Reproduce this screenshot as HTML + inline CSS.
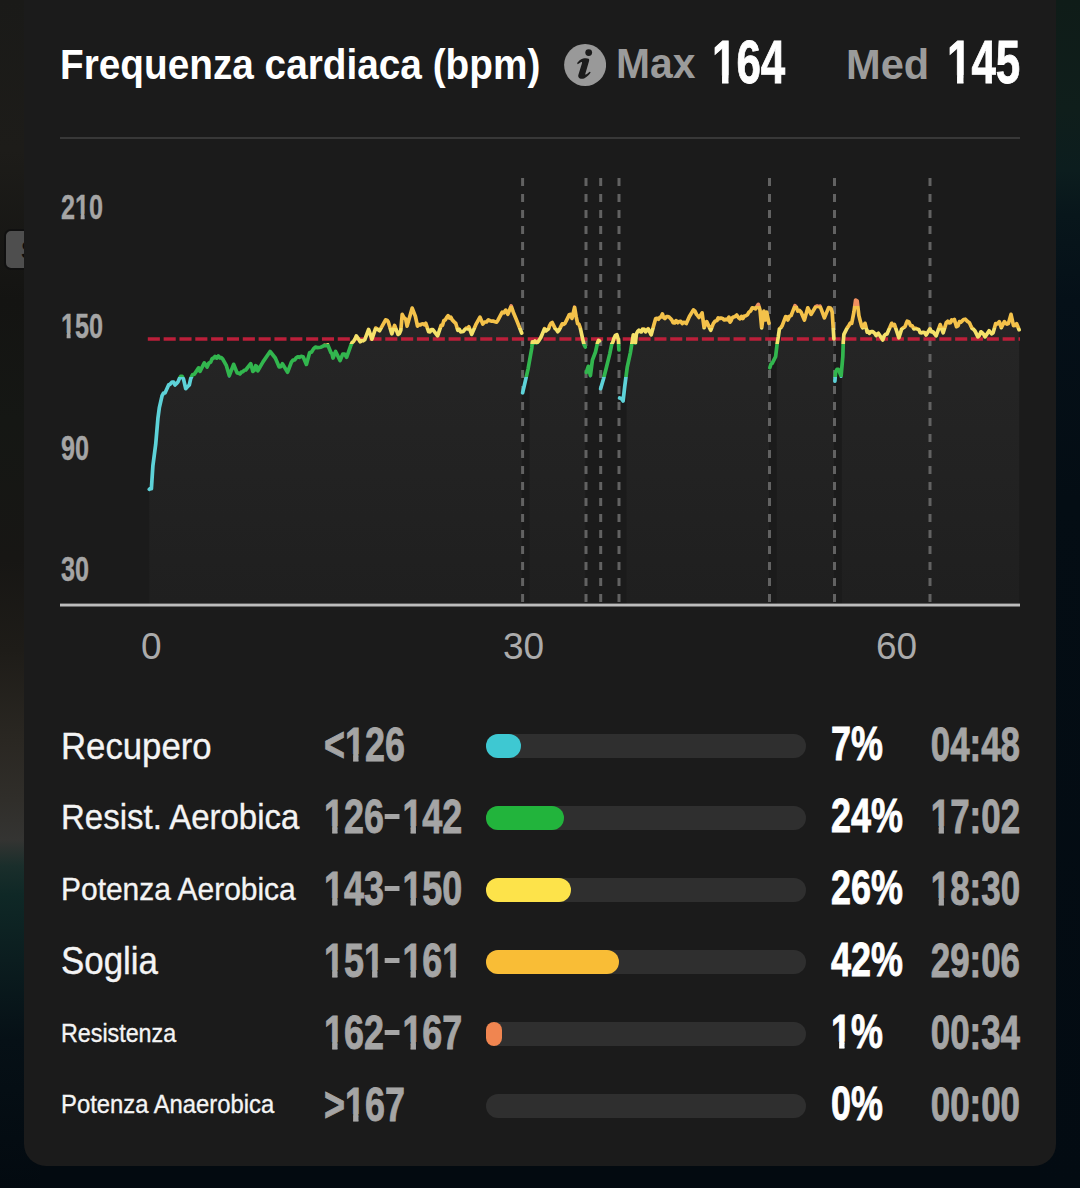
<!DOCTYPE html>
<html><head><meta charset="utf-8">
<style>
*{margin:0;padding:0;box-sizing:border-box}
html,body{width:1080px;height:1188px;overflow:hidden;background:#030a10}
body{position:relative;font-family:"Liberation Sans",sans-serif}
#bgl{position:absolute;left:0;top:0;width:40px;height:1188px;
 background:linear-gradient(180deg,#1a1a18 0px,#1d1c19 150px,#141412 300px,#151714 420px,#171614 560px,#1e1c18 650px,#2a2722 740px,#302e2a 800px,#343432 840px,#1a2e2b 866px,#0f2826 895px,#0b1d1f 960px,#061016 1040px,#030a10 1188px)}
#bgr{position:absolute;right:0;top:0;width:40px;height:1188px;
 background:linear-gradient(180deg,#0f1c18 0px,#0f1e1b 110px,#0c1d1e 170px,#08161b 215px,#051018 300px,#040d14 500px,#030b12 1188px)}
#chip{position:absolute;left:4px;top:229px;width:40px;height:41px;border-radius:7px;background:#4e4e4e;border:2px solid #101010;overflow:hidden}
#chip b{position:absolute;left:15px;top:6px;font:bold 26px "Liberation Sans",sans-serif;color:#0c0c0c;line-height:1}
#card{position:absolute;left:24px;top:-30px;width:1032px;height:1196px;background:#1b1b1b;border-radius:22px}
.t{position:absolute;white-space:nowrap;line-height:1;transform-origin:0 0}
.b{font-weight:bold}
.c{font-weight:bold;color:#a5a5a5;-webkit-text-stroke:0.9px #a5a5a5}
.cw{-webkit-text-stroke:0.9px #fff}
.w{color:#fff}
#sep{position:absolute;left:60px;top:137px;width:960px;height:2px;background:#383838}
.one{display:inline-block;clip-path:polygon(-5% -5%,105% -5%,105% 71%,calc(66.64% + 0.3px) 71%,calc(66.64% + 0.3px) 105%,calc(41.97% - 0.3px) 105%,calc(41.97% - 0.3px) 71%,-5% 71%)}
.track{position:absolute;left:486px;width:320px;height:24px;border-radius:12px;background:#2f2f2f}
.dash{display:inline-block;width:20.5px;height:5px;background:#a5a5a5;vertical-align:0.285em;margin:0 3.5px 0 1px}
.fill{position:absolute;left:0;top:0;height:24px;border-radius:12px}
</style></head>
<body>
<div id="bgl"></div><div id="bgr"></div>
<div id="chip"><b>S</b></div>
<div id="card"></div>

<!-- header -->
<div class="t b w" id="title" style="left:59.5px;top:43.3px;font-size:43px;transform:scaleX(0.9014)">Frequenza cardiaca (bpm)</div>
<svg style="position:absolute;left:564px;top:44px" width="42" height="42" viewBox="0 0 42 42">
 <circle cx="21.1" cy="21" r="21" fill="#999999"/>
 <circle cx="24.7" cy="8.6" r="3.4" fill="#1b1b1b"/>
 <path d="M13.1,18.9 C14.5,17.5 16.5,15 19.1,14.5 C21,14 23.5,14 24.6,14.7 C25.4,15.4 25.3,16.2 25,17.2 L21.2,30.3 C21.6,31 22.5,30.3 24.7,28.4 C25.6,27.7 26.3,27.6 26.6,28.6 C25.5,30.5 23.5,32.6 20.1,34.4 C18.3,35 15.8,35.2 14.6,33.3 C14.1,32.4 14.2,31.6 14.4,30.8 L17.9,19.5 C18.3,18.1 17.7,17.8 16.8,18.3 C15.8,19 14.8,19.7 13.7,20.2 Z" fill="#1b1b1b"/>
</svg>
<div class="t b" style="left:615.5px;top:43px;font-size:42px;color:#9b9b9b;transform:scaleX(0.972)">Max</div>
<div class="t b w cw" style="left:711.8px;top:32.3px;font-size:61px;transform:scaleX(0.72)"><span class="one">1</span>64</div>
<div class="t b" style="left:845.9px;top:44px;font-size:42px;color:#9b9b9b;transform:scaleX(0.99)">Med</div>
<div class="t b w cw" style="left:946.6px;top:32px;font-size:61px;transform:scaleX(0.72)"><span class="one">1</span>45</div>
<div id="sep"></div>

<!-- y labels -->
<div class="t c" style="-webkit-text-stroke-width:0.4px;left:61px;top:189px;font-size:35px;transform:scaleX(0.72)">2<span class="one">1</span>0</div>
<div class="t c" style="-webkit-text-stroke-width:0.4px;left:61px;top:308px;font-size:35px;transform:scaleX(0.72)"><span class="one">1</span>50</div>
<div class="t c" style="-webkit-text-stroke-width:0.4px;left:61px;top:429.5px;font-size:35px;transform:scaleX(0.72)">90</div>
<div class="t c" style="-webkit-text-stroke-width:0.4px;left:61px;top:550.5px;font-size:35px;transform:scaleX(0.72)">30</div>

<!-- chart -->
<svg style="position:absolute;left:0;top:0" width="1080" height="700" viewBox="0 0 1080 700">
<defs><linearGradient id="fg" x1="0" y1="300" x2="0" y2="604" gradientUnits="userSpaceOnUse"><stop offset="0" stop-color="#262626"/><stop offset="1" stop-color="#1f1f1f"/></linearGradient><linearGradient id="zg" x1="0" y1="290" x2="0" y2="410" gradientUnits="userSpaceOnUse"><stop offset="0.0000" stop-color="#f09060"/><stop offset="0.1367" stop-color="#f09060"/><stop offset="0.1367" stop-color="#f4c24a"/><stop offset="0.3200" stop-color="#f4c24a"/><stop offset="0.3200" stop-color="#f5e16a"/><stop offset="0.4533" stop-color="#f5e16a"/><stop offset="0.4533" stop-color="#32b64e"/><stop offset="0.7283" stop-color="#32b64e"/><stop offset="0.7283" stop-color="#5dd2d8"/><stop offset="1.0000" stop-color="#5dd2d8"/></linearGradient></defs>
<path d="M149.3,604.5 L149.3,489.3 L149.3,489.3 L151.4,488.6 L152.9,465.7 L155.7,444.3 L157.9,418.6 L159.3,407.9 L162.1,395.7 L165,392.9 L168.6,385 L172.1,382.1 L175,385 L177.9,382.1 L180.7,376.4 L183.6,379.3 L185.7,388.6 L189.3,385 L190.7,378.6 L194.3,374.3 L198.6,367.9 L200,371.4 L204.3,362.9 L207.1,367.1 L210.7,362.1 L215,356.4 L220,357.9 L222.9,359.3 L226.4,365.7 L229.3,375.7 L233.6,364.3 L237.1,372.9 L241.4,372.1 L245.7,370 L250.7,363.6 L252.9,371.4 L255.7,365.7 L257.8,370.9 L263,361.9 L270.1,351.5 L275.3,358 L279.2,367 L282.4,363.8 L287.6,372.2 L291.5,361.9 L294.7,359.9 L299.3,357.3 L303.1,356.7 L306.4,364.4 L309.6,352.8 L313.5,348.9 L317.4,347.6 L322.6,346.3 L327.8,345 L331,352.8 L333,358 L335.6,351.5 L340.1,360.6 L342.7,354.1 L346.6,357.3 L350.5,346.3 L353.7,341.1 L356.3,335.9 L360.2,341.8 L364.7,339.8 L368.6,329.4 L371.9,339.2 L375.7,328.1 L379.6,330.7 L385.6,319.9 L388.3,321.9 L391.8,333.8 L394.6,325.4 L398,334.4 L400.8,330.3 L402.2,314.3 L405.7,319.2 L407.1,326.1 L412.2,308.1 L415.4,316.4 L417.5,326.1 L421.7,324 L425.8,323.3 L428.6,331.7 L432.8,329.6 L437.6,335.8 L441.1,325.4 L445.3,319.9 L448.1,315.7 L452.2,319.9 L455.7,323.3 L457.8,330.3 L461.9,331.7 L466.1,328.2 L468.9,326.8 L471.7,334.4 L475.8,324.7 L480,317.1 L482.8,324 L488.3,319.9 L495.3,321.9 L498.1,319.9 L502.2,312.2 L505.7,310.1 L507.8,314.3 L511.2,306 L513.3,312.2 L516.8,320.6 L521.7,333 L521.7,604.5 Z" fill="url(#fg)"/>
<path d="M529.6,604.5 L529.6,360.4 L531.8,348 L532.3,341.9 L536.4,342.9 L539.4,339.8 L542,334.7 L544.5,328.6 L547.6,329.6 L549.6,325.6 L552.2,322.5 L555.2,328.6 L557.8,331.7 L560.8,326.6 L564.9,323.5 L568,317.4 L570.5,314.4 L572,318.4 L574.6,307.2 L576.1,316.4 L577.6,323.5 L580.2,327.6 L582.2,336.8 L583.8,343.9 L585.3,347 L585.3,604.5 Z" fill="url(#fg)"/>
<path d="M626.6,604.5 L626.6,372.1 L627.2,367.4 L630.3,353.1 L631.8,344 L633.3,334.8 L635.4,343 L636.4,333.8 L638.9,330.2 L640.5,331.8 L642.5,329.2 L645.6,331.8 L648.1,328.7 L651.2,334.8 L653.7,325.6 L655.7,318.5 L659.8,317.5 L662.4,313.9 L664.9,318.5 L668,316.5 L670.5,318.5 L673.1,322.6 L676.1,320.6 L679.2,321.6 L682.2,323.6 L686.3,323.6 L689.4,316.5 L693.4,309.9 L696.5,314.4 L699,317.5 L702.1,312.9 L704.1,327.7 L706.7,321.6 L710.7,330.2 L713.3,323.6 L716.9,320.6 L720.9,318 L724.4,320 L728.9,317.2 L730,322.2 L732.2,317.8 L736.7,315 L740,318.9 L744.4,316.1 L748.9,312.2 L752.2,307.8 L755.6,308.9 L758.3,304.4 L760,310 L761.7,327.8 L763.9,311.1 L765.6,320 L766.7,312.2 L769,323.3 L769,604.5 Z" fill="url(#fg)"/>
<path d="M776.8,604.5 L776.8,346.7 L777.2,343.3 L778.3,336.7 L779.4,328.9 L782.2,325.6 L785.6,316.7 L787.8,320 L791.1,315.6 L795,305.6 L797.8,311.1 L801.1,312.2 L804.4,320 L807.8,307.8 L811.1,314.4 L815.6,306.7 L818.9,306.7 L821.1,308.9 L824.4,317.8 L827.2,311.1 L830,307.8 L832.2,312.2 L833.9,338.9 L833.9,604.5 Z" fill="url(#fg)"/>
<path d="M841.9,604.5 L841.9,366.9 L842.8,356.7 L843.3,341.1 L843.9,334.4 L847.2,327.8 L851.7,323.3 L853.9,312.2 L855.6,300 L857.2,301.1 L858.9,315.6 L860.6,322.2 L862.8,327.8 L865,323.3 L867.2,332.2 L869.4,333.3 L872.8,331.7 L876.1,335.6 L878.3,333.3 L882.8,340 L885.6,334.4 L888.3,331.1 L891.7,323.3 L894.4,324.4 L896.7,331.1 L898.9,337.8 L901.7,328.9 L905,326.7 L907.2,321.1 L910.6,325.6 L913.9,328.9 L917.2,328.9 L921.7,332.8 L926.1,335 L930,328.7 L933.1,331.8 L936.1,335.8 L940.2,324.6 L943.2,332.8 L946.3,322.6 L950.4,322.6 L954.4,319.5 L956.5,326.7 L959.5,321.6 L963.6,319.5 L966.7,320.6 L970.7,325.6 L974.8,330.7 L977.9,336.9 L980.9,331.8 L985,336.9 L989.1,330.7 L993.1,332.8 L995.7,323.6 L999.3,321.6 L1001.3,327.7 L1004.4,321.6 L1008.4,323.6 L1011,314.4 L1013.5,325.6 L1016.6,323.6 L1019.1,329.7 L1019.1,604.5 Z" fill="url(#fg)"/>
<line x1="522.6" y1="178" x2="522.6" y2="604" stroke="#626262" stroke-width="3" stroke-dasharray="8 8"/>
<line x1="586" y1="178" x2="586" y2="604" stroke="#626262" stroke-width="3" stroke-dasharray="8 8"/>
<line x1="600.7" y1="178" x2="600.7" y2="604" stroke="#626262" stroke-width="3" stroke-dasharray="8 8"/>
<line x1="619" y1="178" x2="619" y2="604" stroke="#626262" stroke-width="3" stroke-dasharray="8 8"/>
<line x1="769.5" y1="178" x2="769.5" y2="604" stroke="#626262" stroke-width="3" stroke-dasharray="8 8"/>
<line x1="834.5" y1="178" x2="834.5" y2="604" stroke="#626262" stroke-width="3" stroke-dasharray="8 8"/>
<line x1="930" y1="178" x2="930" y2="604" stroke="#626262" stroke-width="3" stroke-dasharray="8 8"/>
<line x1="147.8" y1="339" x2="1020" y2="339" stroke="#bb1f3a" stroke-width="3.6" stroke-dasharray="12.1 3.73"/>
<path d="M149.3,489.3 L150.4,488.3 L151.4,488.6 L152.9,465.7 L155.7,444.3 L157.9,418.6 L159.3,407.9 L162.1,395.7 L163.6,393 L165,392.9 L168.6,385 L170.3,384.1 L172.1,382.1 L173.6,382 L175,385 L176.4,383.7 L177.9,382.1 L179.3,378.8 L180.7,376.4 L182.1,376.3 L183.6,379.3 L185.7,388.6 L187.5,386.8 L189.3,385 L190.7,378.6 L192.5,374.8 L194.3,374.3 L198.6,367.9 L200,371.4 L204.3,362.9 L205.7,364.8 L207.1,367.1 L208.9,363.1 L210.7,362.1 L212.1,358.7 L213.6,358 L215,356.4 L216.7,358.1 L218.3,356 L220,357.9 L221.4,357.6 L222.9,359.3 L226.4,365.7 L229.3,375.7 L233.6,364.3 L237.1,372.9 L238.5,373.1 L240,374 L241.4,372.1 L242.8,371.7 L244.3,370.3 L245.7,370 L250.7,363.6 L252.9,371.4 L254.3,370.3 L255.7,365.7 L256.8,366.7 L257.8,370.9 L263,361.9 L270.1,351.5 L275.3,358 L279.2,367 L280.8,366.7 L282.4,363.8 L287.6,372.2 L291.5,361.9 L293.1,360.1 L294.7,359.9 L296.2,357.8 L297.8,356.8 L299.3,357.3 L301.2,356.3 L303.1,356.7 L306.4,364.4 L309.6,352.8 L311.6,352 L313.5,348.9 L315.4,347.1 L317.4,347.6 L319.1,347.5 L320.9,347.2 L322.6,346.3 L324.3,345.4 L326.1,345.6 L327.8,345 L331,352.8 L332,353.8 L333,358 L335.6,351.5 L340.1,360.6 L342.7,354.1 L344.6,354.1 L346.6,357.3 L350.5,346.3 L352.1,342.6 L353.7,341.1 L355,339.1 L356.3,335.9 L358.2,338.6 L360.2,341.8 L361.7,340.5 L363.2,340.8 L364.7,339.8 L368.6,329.4 L371.9,339.2 L375.7,328.1 L377.6,329.2 L379.6,330.7 L385.6,319.9 L387,320.2 L388.3,321.9 L391.8,333.8 L394.6,325.4 L398,334.4 L399.4,333.4 L400.8,330.3 L402.2,314.3 L403.9,317.5 L405.7,319.2 L407.1,326.1 L412.2,308.1 L415.4,316.4 L417.5,326.1 L418.9,324.5 L420.3,325 L421.7,324 L423.1,323.9 L424.4,324.9 L425.8,323.3 L428.6,331.7 L430,331.8 L431.4,329.5 L432.8,329.6 L437.6,335.8 L441.1,325.4 L442.5,325.3 L443.9,320.4 L445.3,319.9 L446.7,317.5 L448.1,315.7 L449.5,318 L450.8,317.2 L452.2,319.9 L453.9,321.6 L455.7,323.3 L457.8,330.3 L459.2,329.1 L460.5,331.8 L461.9,331.7 L463.3,331.5 L464.7,329.6 L466.1,328.2 L467.5,328.9 L468.9,326.8 L471.7,334.4 L475.8,324.7 L480,317.1 L482.8,324 L484.6,322 L486.5,322 L488.3,319.9 L490.1,320.7 L491.8,321.2 L493.6,321.2 L495.3,321.9 L496.7,322.1 L498.1,319.9 L502.2,312.2 L503.9,312.8 L505.7,310.1 L506.8,312.1 L507.8,314.3 L511.2,306 L513.3,312.2 L516.8,320.6 L521.7,333" fill="none" stroke="url(#zg)" stroke-width="3.7" stroke-linejoin="round" stroke-linecap="round"/>
<path d="M522.6,392.8 L525.2,381.6 L528.2,368.3 L531.8,348 L532.3,341.9 L533.7,342.8 L535,341 L536.4,342.9 L537.9,342.1 L539.4,339.8 L540.7,337.8 L542,334.7 L544.5,328.6 L546,330.9 L547.6,329.6 L548.6,328.8 L549.6,325.6 L550.9,323.3 L552.2,322.5 L555.2,328.6 L556.5,329.7 L557.8,331.7 L559.3,329.8 L560.8,326.6 L562.2,323.8 L563.5,324.4 L564.9,323.5 L568,317.4 L569.2,314.7 L570.5,314.4 L572,318.4 L574.6,307.2 L576.1,316.4 L577.6,323.5 L578.9,324.2 L580.2,327.6 L582.2,336.8 L583.8,343.9 L585.3,347" fill="none" stroke="url(#zg)" stroke-width="3.7" stroke-linejoin="round" stroke-linecap="round"/>
<path d="M586.3,372.4 L588.3,366.3 L590.4,375.5 L592.4,360.2 L595.5,352 L597.5,342.9 L598.5,340.3 L599.5,340.8" fill="none" stroke="url(#zg)" stroke-width="3.7" stroke-linejoin="round" stroke-linecap="round"/>
<path d="M600.6,388.7 L603.6,378.5 L606.7,366.3 L609.7,354.1 L611.8,343.9 L612.8,342.3 L613.8,338.8 L615.3,335.4 L616.9,334.7 L618.4,339.8 L618.9,350" fill="none" stroke="url(#zg)" stroke-width="3.7" stroke-linejoin="round" stroke-linecap="round"/>
<path d="M619.6,398 L621.4,398.6 L623.1,401 L624.7,386.8 L627.2,367.4 L630.3,353.1 L631.8,344 L633.3,334.8 L635.4,343 L636.4,333.8 L637.6,331.6 L638.9,330.2 L640.5,331.8 L641.5,331.8 L642.5,329.2 L644,329 L645.6,331.8 L646.9,330.1 L648.1,328.7 L651.2,334.8 L653.7,325.6 L655.7,318.5 L657.1,318.3 L658.4,319.2 L659.8,317.5 L661.1,316.8 L662.4,313.9 L663.6,317.5 L664.9,318.5 L666.5,316.7 L668,316.5 L669.2,317.2 L670.5,318.5 L671.8,320 L673.1,322.6 L674.6,323 L676.1,320.6 L677.7,322.7 L679.2,321.6 L680.7,321.3 L682.2,323.6 L683.6,322.4 L684.9,322.6 L686.3,323.6 L689.4,316.5 L693.4,309.9 L695,311.2 L696.5,314.4 L697.8,315.9 L699,317.5 L700.5,315.5 L702.1,312.9 L704.1,327.7 L706.7,321.6 L710.7,330.2 L713.3,323.6 L715.1,321.2 L716.9,320.6 L718.2,317.9 L719.6,318.6 L720.9,318 L722.6,318.5 L724.4,320 L725.9,319.3 L727.4,319.8 L728.9,317.2 L730,322.2 L731.1,320.7 L732.2,317.8 L733.7,316.9 L735.2,316.4 L736.7,315 L738.4,317.6 L740,318.9 L741.5,316.4 L742.9,318.5 L744.4,316.1 L745.9,315.8 L747.4,314.8 L748.9,312.2 L750.5,311.1 L752.2,307.8 L753.9,308 L755.6,308.9 L757,306.3 L758.3,304.4 L760,310 L761.7,327.8 L763.9,311.1 L765.6,320 L766.7,312.2 L769,323.3" fill="none" stroke="url(#zg)" stroke-width="3.7" stroke-linejoin="round" stroke-linecap="round"/>
<path d="M769.8,367.8 L771,364.1 L772.2,363.3 L775.6,356.7 L777.2,343.3 L778.3,336.7 L779.4,328.9 L780.8,327.7 L782.2,325.6 L785.6,316.7 L786.7,316.8 L787.8,320 L789.5,316.2 L791.1,315.6 L795,305.6 L796.4,307.3 L797.8,311.1 L799.5,310.4 L801.1,312.2 L804.4,320 L807.8,307.8 L811.1,314.4 L815.6,306.7 L817.2,306.1 L818.9,306.7 L820,306.2 L821.1,308.9 L824.4,317.8 L827.2,311.1 L828.6,307.7 L830,307.8 L831.1,308.7 L832.2,312.2 L833.9,338.9" fill="none" stroke="url(#zg)" stroke-width="3.7" stroke-linejoin="round" stroke-linecap="round"/>
<path d="M834.9,381.1 L835.6,372.2 L837,369.4 L838.3,369.4 L841.1,376 L842.8,356.7 L843.3,341.1 L843.9,334.4 L847.2,327.8 L848.7,325.8 L850.2,323.1 L851.7,323.3 L853.9,312.2 L855.6,300 L857.2,301.1 L858.9,315.6 L860.6,322.2 L861.7,326.3 L862.8,327.8 L863.9,326 L865,323.3 L867.2,332.2 L868.3,331.5 L869.4,333.3 L871.1,331.6 L872.8,331.7 L874.5,333.1 L876.1,335.6 L877.2,334 L878.3,333.3 L882.8,340 L884.2,335.8 L885.6,334.4 L887,334 L888.3,331.1 L891.7,323.3 L893,325.6 L894.4,324.4 L896.7,331.1 L898.9,337.8 L901.7,328.9 L903.4,327.7 L905,326.7 L906.1,323.8 L907.2,321.1 L908.9,321.9 L910.6,325.6 L912.2,325.8 L913.9,328.9 L915.5,328.3 L917.2,328.9 L918.7,329.4 L920.2,332.7 L921.7,332.8 L923.2,332.3 L924.6,332.5 L926.1,335 L930,328.7 L931.5,331.9 L933.1,331.8 L934.6,333.9 L936.1,335.8 L940.2,324.6 L943.2,332.8 L946.3,322.6 L947.7,321.3 L949,322.8 L950.4,322.6 L951.7,319.9 L953.1,320.6 L954.4,319.5 L956.5,326.7 L958,325.9 L959.5,321.6 L960.9,322.2 L962.2,320.9 L963.6,319.5 L965.2,319.2 L966.7,320.6 L968,321.8 L969.4,322.7 L970.7,325.6 L972.1,328.3 L973.4,329.1 L974.8,330.7 L977.9,336.9 L979.4,335.4 L980.9,331.8 L982.3,332.9 L983.6,334.2 L985,336.9 L989.1,330.7 L990.4,332.5 L991.8,333.8 L993.1,332.8 L995.7,323.6 L997.5,323.9 L999.3,321.6 L1001.3,327.7 L1004.4,321.6 L1005.7,323.4 L1007.1,324.1 L1008.4,323.6 L1011,314.4 L1013.5,325.6 L1015,325.5 L1016.6,323.6 L1019.1,329.7" fill="none" stroke="url(#zg)" stroke-width="3.7" stroke-linejoin="round" stroke-linecap="round"/>
<rect x="60" y="603.6" width="960" height="2.9" fill="#bdbdbd"/>
</svg>

<!-- x labels -->
<div class="t" style="left:141px;top:627.5px;font-size:37px;color:#ababab">0</div>
<div class="t" style="left:503px;top:627.5px;font-size:37px;color:#ababab">30</div>
<div class="t" style="left:876px;top:627.5px;font-size:37px;color:#ababab">60</div>

<!-- zones -->
<div class="t" style="left:60.5px;top:727.54px;font-size:37.75px;color:#f4f4f4;-webkit-text-stroke:0.35px #f4f4f4;transform:scaleX(0.92)">Recupero</div>
<div class="t c" style="left:323.5px;top:719.6px;font-size:48.5px;transform:scaleX(0.74)">&lt;<span class="one">1</span>26</div>
<div class="track" style="top:734px"><div class="fill" style="width:35px;background:#3ec8d2"></div></div>
<div class="t b w cw" style="left:831px;top:719.1px;font-size:48.5px;transform:scaleX(0.74)">7%</div>
<div class="t c" style="right:60px;top:719.6px;font-size:48.5px;transform:scaleX(0.72);transform-origin:100% 0">04:48</div>
<div class="t" style="left:60.5px;top:799.84px;font-size:35.86px;color:#f4f4f4;-webkit-text-stroke:0.35px #f4f4f4;transform:scaleX(0.92)">Resist. Aerobica</div>
<div class="t c" style="left:323.5px;top:791.6px;font-size:48.5px;transform:scaleX(0.74)"><span class="one">1</span>26<span class="dash"></span><span class="one">1</span>42</div>
<div class="track" style="top:806px"><div class="fill" style="width:78px;background:#22b43c"></div></div>
<div class="t b w cw" style="left:831px;top:791.1px;font-size:48.5px;transform:scaleX(0.74)">24%</div>
<div class="t c" style="right:60px;top:791.6px;font-size:48.5px;transform:scaleX(0.72);transform-origin:100% 0"><span class="one">1</span>7:02</div>
<div class="t" style="left:60.5px;top:874.12px;font-size:31.40px;color:#f4f4f4;-webkit-text-stroke:0.35px #f4f4f4;transform:scaleX(0.954)">Potenza Aerobica</div>
<div class="t c" style="left:323.5px;top:863.6px;font-size:48.5px;transform:scaleX(0.74)"><span class="one">1</span>43<span class="dash"></span><span class="one">1</span>50</div>
<div class="track" style="top:878px"><div class="fill" style="width:85px;background:#fde34a"></div></div>
<div class="t b w cw" style="left:831px;top:863.1px;font-size:48.5px;transform:scaleX(0.74)">26%</div>
<div class="t c" style="right:60px;top:863.6px;font-size:48.5px;transform:scaleX(0.72);transform-origin:100% 0"><span class="one">1</span>8:30</div>
<div class="t" style="left:60.5px;top:942.63px;font-size:37.95px;color:#f4f4f4;-webkit-text-stroke:0.35px #f4f4f4;transform:scaleX(0.92)">Soglia</div>
<div class="t c" style="left:323.5px;top:935.6px;font-size:48.5px;transform:scaleX(0.74)"><span class="one">1</span>5<span class="one">1</span><span class="dash"></span><span class="one">1</span>6<span class="one">1</span></div>
<div class="track" style="top:950px"><div class="fill" style="width:133px;background:#f9bd36"></div></div>
<div class="t b w cw" style="left:831px;top:935.1px;font-size:48.5px;transform:scaleX(0.74)">42%</div>
<div class="t c" style="right:60px;top:935.6px;font-size:48.5px;transform:scaleX(0.72);transform-origin:100% 0">29:06</div>
<div class="t" style="left:60.5px;top:1020.88px;font-size:25.30px;color:#f4f4f4;-webkit-text-stroke:0.35px #f4f4f4;transform:scaleX(0.92)">Resistenza</div>
<div class="t c" style="left:323.5px;top:1007.6px;font-size:48.5px;transform:scaleX(0.74)"><span class="one">1</span>62<span class="dash"></span><span class="one">1</span>67</div>
<div class="track" style="top:1022px"><div class="fill" style="width:16px;background:#f08550"></div></div>
<div class="t b w cw" style="left:831px;top:1007.1px;font-size:48.5px;transform:scaleX(0.74)"><span class="one">1</span>%</div>
<div class="t c" style="right:60px;top:1007.6px;font-size:48.5px;transform:scaleX(0.72);transform-origin:100% 0">00:34</div>
<div class="t" style="left:60.5px;top:1092.28px;font-size:25.90px;color:#f4f4f4;-webkit-text-stroke:0.35px #f4f4f4;transform:scaleX(0.92)">Potenza Anaerobica</div>
<div class="t c" style="left:323.5px;top:1079.6px;font-size:48.5px;transform:scaleX(0.74)">&gt;<span class="one">1</span>67</div>
<div class="track" style="top:1094px"></div>
<div class="t b w cw" style="left:831px;top:1079.1px;font-size:48.5px;transform:scaleX(0.74)">0%</div>
<div class="t c" style="right:60px;top:1079.6px;font-size:48.5px;transform:scaleX(0.72);transform-origin:100% 0">00:00</div>
</body></html>
